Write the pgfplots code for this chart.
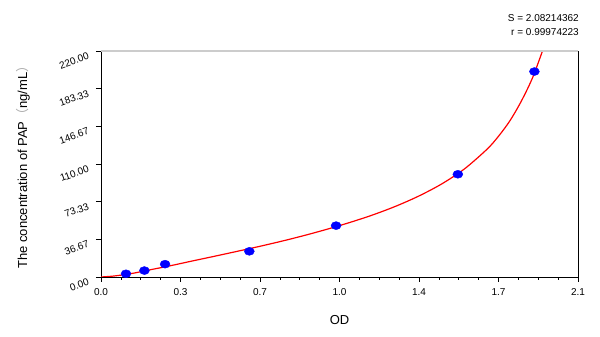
\documentclass[border=0pt]{standalone}
\usepackage{pgfplots}
\pgfplotsset{compat=1.18}
\usepackage{fontspec}
\setmainfont{Liberation Sans}
\newfontfamily\cjk{Noto Sans CJK SC}
\begin{document}
\begin{tikzpicture}[x=1pt,y=1pt]
\path[use as bounding box] (0,0) rectangle (600,337);
\begin{axis}[
  at={(101pt,60pt)}, anchor=south west,
  scale only axis, width=477pt, height=226pt,
  xmin=0, xmax=2.1, ymin=0, ymax=220,
  xtick={0,0.35,0.7,1.05,1.4,1.75,2.1},
  xticklabels={0.0,0.3,0.7,1.0,1.4,1.7,2.1},
  ytick={0,36.6667,73.3333,110,146.6667,183.3333,220},
  yticklabels={0.00,36.67,73.33,110.00,146.67,183.33,220.00},
  minor x tick num=3, minor y tick num=3,
  xtick pos=bottom, ytick pos=left, tick align=outside,
  major tick length=5pt, minor tick length=3pt,
  tick style={black, line width=0.6pt},
  axis line style={black, line width=0.8pt},
  /pgf/number format/assume math mode=true,
  ticklabel style={font=\fontsize{10}{12}\selectfont},
  xticklabel style={yshift=-3pt},
  yticklabel style={rotate=20, anchor=east, xshift=-5pt, yshift=-1.5pt},
  xlabel={OD},
  ylabel={The concentration of PAP{\color{gray!65}\cjk （}ng/mL{\color{gray!65}\cjk ）}},
  xlabel style={at={(axis description cs:0.5,-0.208)}, anchor=base, font=\fontsize{13}{15}\selectfont},
  ylabel style={at={(axis description cs:-0.155,0.50)}, anchor=base, font=\fontsize{13}{15}\selectfont},
  clip=true,
]
\addplot[only marks, mark=*, mark size=4pt, mark options={fill=blue, draw=blue, xscale=1.25}]
  coordinates {(0.110,3.125) (0.191,6.25) (0.282,12.5) (0.653,25) (1.035,50) (1.571,100) (1.908,200)};
\addplot[red, line width=1.2pt, smooth] coordinates {
  (0,0) (0.05,0.8) (0.1,2.2) (0.15,4.0) (0.2,6.3) (0.3,10.7) (0.4,15.5)
  (0.5,20.2) (0.6,25.0) (0.7,29.9) (0.8,35.1) (0.9,40.7) (1.0,46.8)
  (1.1,53.4) (1.2,60.7) (1.3,69.1) (1.4,78.9) (1.5,90.6) (1.6,105.2)
  (1.7,124.5) (1.75,137.0) (1.8,152.0) (1.85,171.0) (1.9,194.0) (1.95,224.0)};
\draw[gray!40, line width=1.5pt] (rel axis cs:0,1) -- (rel axis cs:1,1);
\end{axis}
\node[anchor=base east, font=\fontsize{10}{12}\selectfont, inner sep=0pt] at (579,315.3) {S = 2.08214362};
\node[anchor=base east, font=\fontsize{10}{12}\selectfont, inner sep=0pt] at (579,301.5) {r = 0.99974223};
\end{tikzpicture}
\end{document}
